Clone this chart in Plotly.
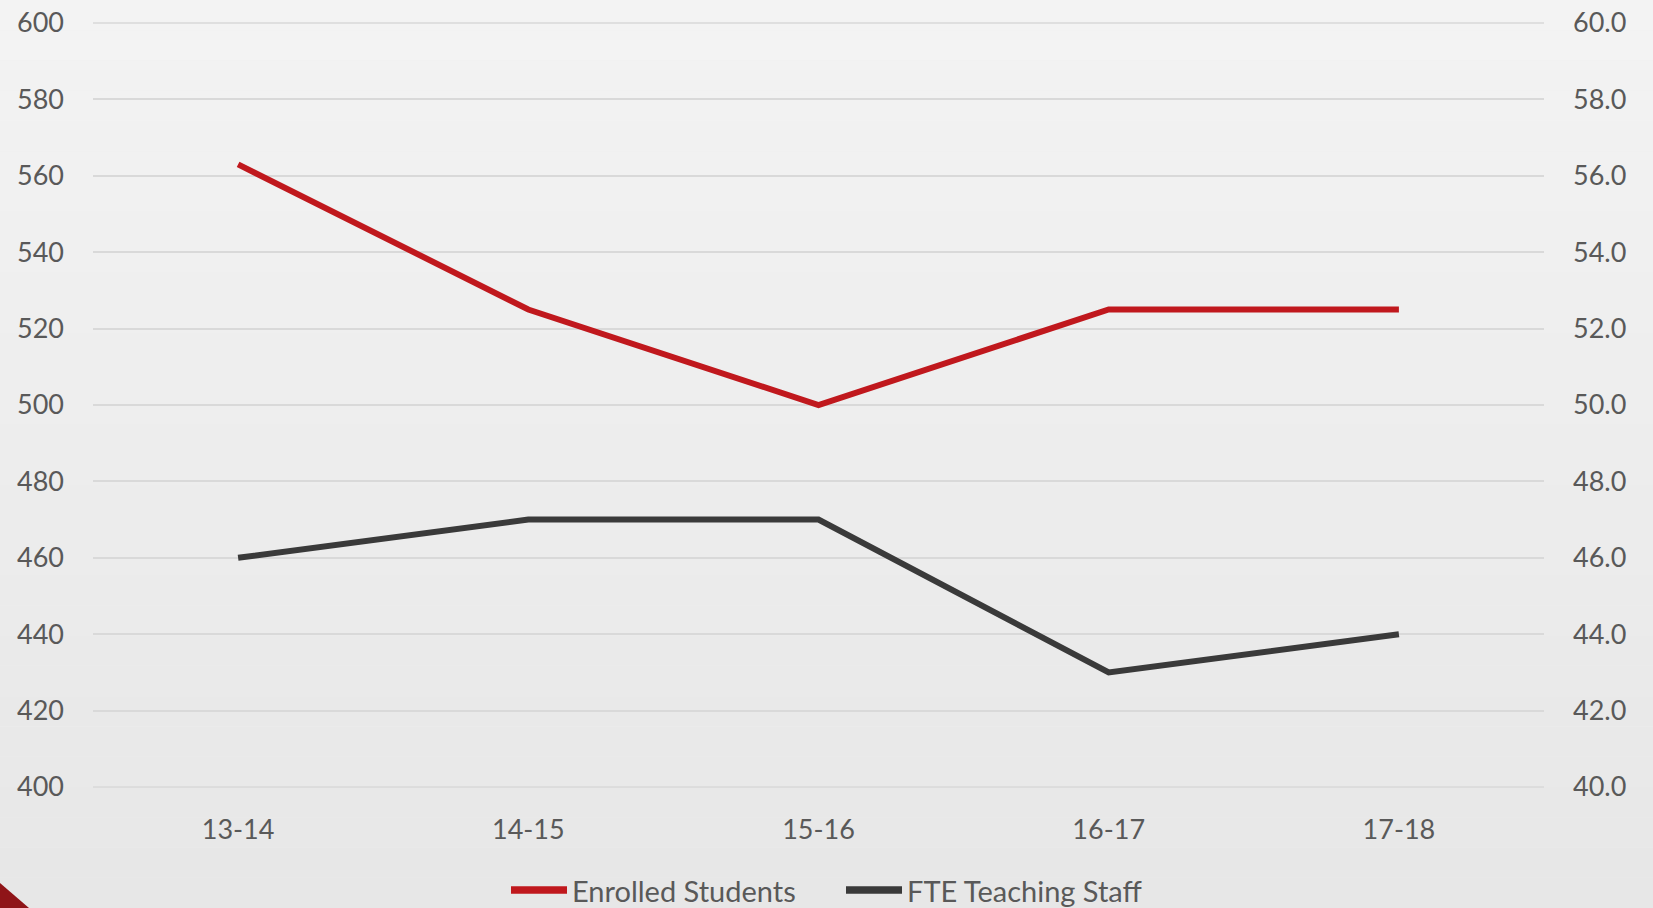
import plotly.graph_objects as go

# School years and series values
years = ["13-14", "14-15", "15-16", "16-17", "17-18"]
enrolled_students = [563, 525, 500, 525, 525]
fte_teaching_staff = [46, 47, 47, 43, 44]

# Axis tick values / labels
left_ticks = [400, 420, 440, 460, 480, 500, 520, 540, 560, 580, 600]
right_ticks = [40, 42, 44, 46, 48, 50, 52, 54, 56, 58, 60]
right_tick_text = [f"{v:.1f}" for v in right_ticks]

W, H = 1653, 908
FONT = "Lato"
TEXT = "#595959"
RED = "#c0181d"
DARK = "#3a3a3a"
GRID = "#d9d9d9"

fig = go.Figure()

fig.add_trace(go.Scatter(
    x=years, y=enrolled_students, name="Enrolled Students",
    mode="lines", line=dict(color=RED, width=6), yaxis="y",
))
fig.add_trace(go.Scatter(
    x=years, y=fte_teaching_staff, name="FTE Teaching Staff",
    mode="lines", line=dict(color=DARK, width=6), yaxis="y2",
))

# Soft vertical background gradient built from thin bands
shapes = []
n_bands = 30
top_rgb, bot_rgb = 243, 231
for i in range(n_bands):
    g = round(top_rgb + (bot_rgb - top_rgb) * i / (n_bands - 1))
    shapes.append(dict(
        type="rect", xref="paper", yref="paper", layer="below",
        x0=0, x1=1, y1=1 - i / n_bands, y0=1 - (i + 1) / n_bands,
        fillcolor=f"rgb({g},{g},{g})", line=dict(width=0),
    ))
# Gridlines on the top and bottom edges of the plot area
for edge in (0, 1):
    shapes.append(dict(
        type="line", xref="x domain", yref="y domain", layer="below",
        x0=0, x1=1, y0=edge, y1=edge, line=dict(color=GRID, width=1.5),
    ))
# Corner accent triangle
shapes.append(dict(
    type="path", xref="paper", yref="paper", layer="above",
    path=f"M 0,0 L 0,{25 / H} L {29 / W},0 Z",
    fillcolor="#8f1418", line=dict(width=0),
))

# Legend drawn as key lines + labels along the bottom
legend_y = 1 - 890 / H
legend_items = [
    ("Enrolled Students", RED, 511, 567),
    ("FTE Teaching Staff", DARK, 846, 902),
]
annotations = []
for label, color, lx0, lx1 in legend_items:
    shapes.append(dict(
        type="line", xref="paper", yref="paper",
        x0=lx0 / W, x1=lx1 / W, y0=legend_y, y1=legend_y,
        line=dict(color=color, width=7.5),
    ))
    annotations.append(dict(
        text=label, xref="paper", yref="paper", x=(lx1 + 3) / W, y=legend_y,
        xanchor="left", yanchor="middle", showarrow=False,
        font=dict(family=FONT, size=29, color=TEXT),
    ))

x0, x1 = 93 / W, 1544 / W
y0, y1 = 1 - 787 / H, 1 - 23 / H

fig.update_layout(
    width=W, height=H,
    margin=dict(l=0, r=0, t=0, b=0, autoexpand=False),
    paper_bgcolor="#eeeeee",
    plot_bgcolor="rgba(0,0,0,0)",
    font=dict(family=FONT, size=27, color=TEXT),
    shapes=shapes,
    annotations=annotations,
    showlegend=False,
    xaxis=dict(
        domain=[x0, x1], type="category", automargin=False,
        range=[-0.5, len(years) - 0.5],
        showgrid=False, zeroline=False, showline=False,
        ticks="", ticklabelstandoff=24,
        tickfont=dict(family=FONT, size=27, color=TEXT),
    ),
    yaxis=dict(
        domain=[y0, y1], range=[400, 600], automargin=False,
        tickvals=left_ticks, ticktext=[str(v) for v in left_ticks],
        showgrid=True, gridcolor=GRID, gridwidth=1.5,
        zeroline=False, showline=False, ticks="", ticklabelstandoff=28,
        tickfont=dict(family=FONT, size=27, color=TEXT),
    ),
    yaxis2=dict(
        overlaying="y", side="right", range=[40, 60],
        automargin=False,
        tickvals=right_ticks, ticktext=right_tick_text,
        showgrid=False, zeroline=False, showline=False, ticks="",
        ticklabelstandoff=28,
        tickfont=dict(family=FONT, size=27, color=TEXT),
    ),
)

fig.write_html("out.html")
